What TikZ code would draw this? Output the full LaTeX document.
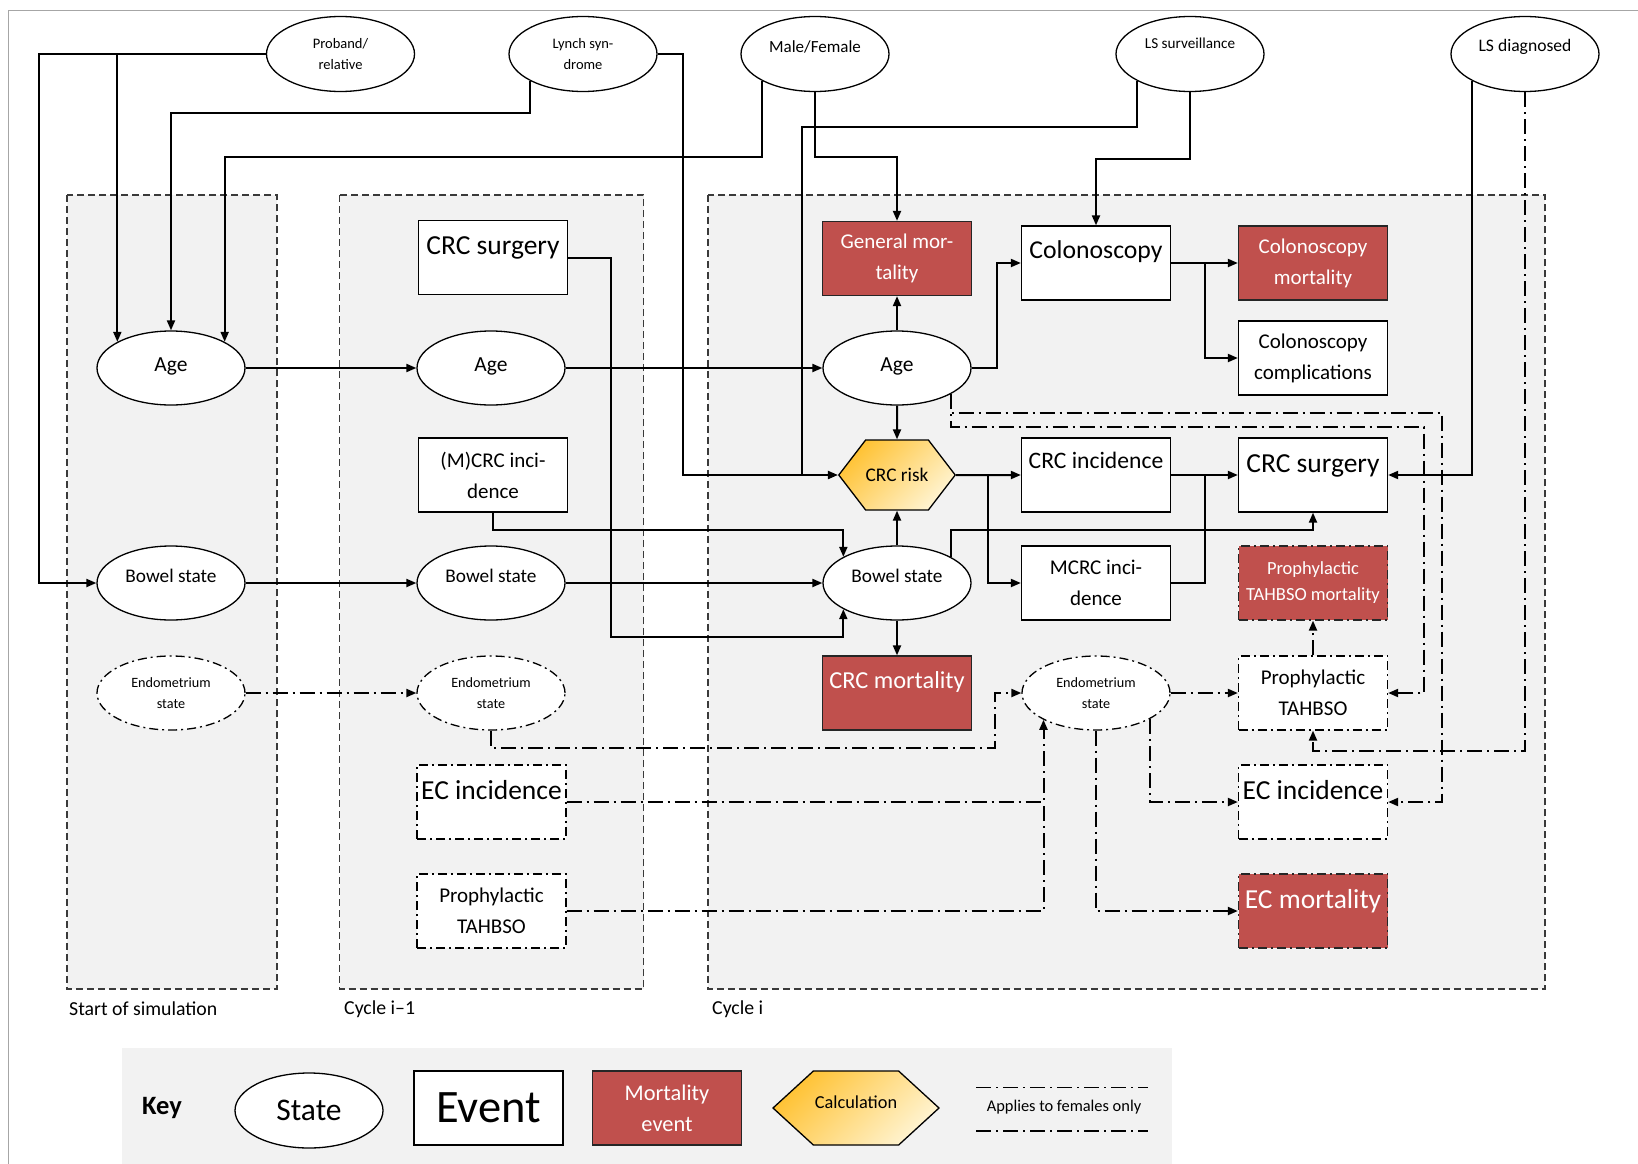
\documentclass[tikz,border=0pt]{standalone}
\usepackage{fontspec}
\setmainfont{Carlito}
\usetikzlibrary{arrows.meta,positioning,calc,shapes.geometric,shapes.symbols}
\definecolor{ink}{HTML}{000000}
\definecolor{panel}{HTML}{F2F2F2}
\definecolor{framegray}{HTML}{3A3A3A}
\definecolor{edgegray}{HTML}{A6A6A6}
\definecolor{mort}{HTML}{C0504D}
\definecolor{calcA}{HTML}{FFC233}
\definecolor{calcB}{HTML}{FFF4D2}
\tikzset{
  >={Triangle[length=10pt,width=8pt]},
  fdash/.style={dash pattern=on 15pt off 5pt on 2pt off 5pt},
  bdash/.style={dash pattern=on 9pt off 4pt on 2pt off 4pt},
  statenode/.style={ellipse,draw=ink,fill=white,line width=1.3pt,minimum width=148pt,minimum height=74pt,inner sep=0pt,align=center,font=\fontsize{20}{30}\selectfont},
  topstate/.style={statenode,minimum height=75pt,font=\fontsize{14.5}{21}\selectfont},
  agenode/.style={statenode,font=\fontsize{21.5}{30}\selectfont,text height=15pt,text depth=9pt},
  bowelnode/.style={statenode,font=\fontsize{19.3}{29}\selectfont,text height=14pt,text depth=16pt},
  femstate/.style={statenode,bdash,font=\fontsize{14.2}{21}\selectfont},
  evbox/.style={rectangle,draw=ink,fill=white,line width=1.3pt,minimum width=149pt,minimum height=74pt,inner sep=0pt,align=center,font=\fontsize{21}{31}\selectfont},
  topbox/.style={evbox,font=\fontsize{27.5}{32}\selectfont,text height=34pt,text depth=40pt},
  mortbox/.style={evbox,fill=mort,draw=ink!85,text=white},
  topmort/.style={topbox,fill=mort,draw=ink!85,text=white},
  calcnode/.style={signal,signal to=east and west,signal pointer angle=105,draw=ink,line width=1.3pt,top color=calcA,bottom color=calcB,shading angle=45,minimum width=116pt,minimum height=70pt,inner sep=0pt,font=\fontsize{19.3}{24}\selectfont},
  cyclebox/.style={draw=framegray,fill=panel,line width=1.3pt,dash pattern=on 7pt off 4pt},
  cyclelabel/.style={anchor=west,inner sep=2pt,font=\fontsize{19.8}{24}\selectfont},
  arr/.style={->,line width=2pt,draw=ink},
  link/.style={line width=2pt,draw=ink},
  farr/.style={->,line width=2pt,draw=ink,fdash},
  flink/.style={line width=2pt,draw=ink,fdash},
}
\begin{document}
\begin{tikzpicture}[x=1pt,y=-1pt]
\useasboundingbox (0,0) rectangle (1638,1164);
\fill[white] (0,0) rectangle (1638,1164);
\draw[edgegray,line width=1.2pt] (8.5,1164) |- (1638,10.5);
\draw[cyclebox] (67,195) rectangle (277,989);
\draw[cyclebox] (339.5,195) rectangle (643.5,989);
\draw[cyclebox] (708,195) rectangle (1545,989);
\node[cyclelabel] (lstart) at (67,1009) {Start of simulation};
\node[cyclelabel] (lprev) at (342,1009) {Cycle i\textendash1};
\node[cyclelabel] (lcur) at (710,1009) {Cycle i};

\node[topstate] (prob) at (340.5,54) {Proband/\\relative};
\node[topstate] (lynch) at (583,54) {Lynch syn-\\drome};
\node[topstate,font=\fontsize{17}{21}\selectfont,text height=12pt,text depth=15.6pt] (mf) at (815,54) {Male/Female};
\node[topstate,font=\fontsize{15.2}{18}\selectfont,text height=11pt,text depth=21.6pt] (lss) at (1190,54) {LS surveillance};
\node[topstate,font=\fontsize{17.6}{21}\selectfont,text height=12pt,text depth=17.6pt] (lsd) at (1525,54) {LS diagnosed};

\node[agenode] (ageS) at (171,368) {Age};
\node[bowelnode] (bowS) at (171,583) {Bowel state};
\node[femstate] (endS) at (171,693) {Endometrium\\state};

\node[topbox] (surg1) at (493,257.5) {CRC surgery};
\node[agenode] (age1) at (491,368) {Age};
\node[evbox] (inc1) at (493,475) {(M)CRC inci-\\dence};
\node[bowelnode] (bow1) at (491,583) {Bowel state};
\node[femstate] (end1) at (491,693) {Endometrium\\state};
\node[topbox,bdash] (ec1) at (491.5,802) {EC incidence};
\node[evbox,bdash] (tah1) at (491.5,911) {Prophylactic\\TAHBSO};

\node[mortbox] (genm) at (897,258.5) {General mor-\\tality};
\node[topbox,font=\fontsize{25.7}{30}\selectfont,text height=32pt,text depth=42pt] (colo) at (1096,263) {Colonoscopy};
\node[mortbox] (cmort) at (1313,263) {Colonoscopy\\mortality};
\node[evbox] (ccomp) at (1313,358) {Colonoscopy\\complications};
\node[agenode] (agei) at (897,368) {Age};
\node[calcnode] (risk) at (897,475) {CRC risk};
\node[topbox,font=\fontsize{23.6}{28}\selectfont,text height=30pt,text depth=44pt] (inci) at (1096,475) {CRC incidence};
\node[topbox] (surgi) at (1313,475) {CRC surgery};
\node[bowelnode] (bowi) at (897,583) {Bowel state};
\node[evbox] (mcrc) at (1096,583) {MCRC inci-\\dence};
\node[mortbox,bdash,font=\fontsize{18.5}{26}\selectfont] (pmort) at (1313,583) {Prophylactic\\TAHBSO mortality};
\node[topmort,font=\fontsize{24.4}{29}\selectfont,text height=32pt,text depth=42pt] (crcm) at (897,693) {CRC mortality};
\node[femstate] (endi) at (1096,693) {Endometrium\\state};
\node[evbox,bdash] (tahi) at (1313,693) {Prophylactic\\TAHBSO};
\node[topbox,bdash] (eci) at (1313,802) {EC incidence};
\node[topmort,bdash] (ecm) at (1313,911) {EC mortality};
\coordinate (jrisk) at (801.5,475);

\draw[arr] (prob.west) -- ++(-227,0) |- (bowS.west);
\draw[arr] (ageS.154 |- prob.west) -- (ageS.154);
\draw[arr] (lynch.207) -- ++(0,32) -| (ageS.north);
\draw[arr] (lynch.east) -- ++(25,0) |- (risk.west);
\draw[arr] (mf.207) -- ++(0,76) -| (ageS.26);
\draw[arr] (mf.south) -- ++(0,65) -| (genm.north);
\draw[link] (lss.207) -- ++(0,46.4) -| (jrisk);
\draw[arr] (lss.south) -- ++(0,66.5) -| (colo.north);
\draw[arr] (lsd.207) |- (surgi.east);
\draw[farr] (lsd.south) -- ++(0,658.5) -| (tahi.south);

\draw[arr] (ageS) -- (age1);
\draw[arr] (age1) -- (agei);
\draw[arr] (bowS) -- (bow1);
\draw[arr] (bow1) -- (bowi);
\draw[farr] (endS) -- (end1);
\draw[arr] (surg1.east) -- ++(43,0) -- ++(0,379) -| (bowi.206);
\draw[arr] (inc1.south) -- ++(0,17) -| (bowi.154);

\draw[arr] (agei) -- (genm);
\draw[arr] (agei.east) -- ++(25,0) |- (colo.west);
\draw[arr] (colo) -- (cmort);
\draw[arr] ($(colo.east)!.5!(cmort.west)$) |- (ccomp.west);
\draw[arr] (agei) -- (risk);
\draw[arr] (bowi) -- (risk);
\draw[arr] (risk) -- (inci);
\draw[arr] ($(risk.east)!.5!(inci.west)$) |- (mcrc.west);
\draw[arr] (inci) -- (surgi);
\draw[link] (mcrc.east) -| ($(inci.east)!.5!(surgi.west)$);
\draw[arr] (bowi.26) -- ++(0,-27) -| (surgi.south);
\draw[arr] (bowi) -- (crcm);

\draw[farr] (agei.334) -- ++(0,19) -| ($(eci.east)+(54,0)$) -- (eci.east);
\draw[farr] (agei.334) -- ++(0,33) -| ($(tahi.east)+(36,0)$) -- (tahi.east);
\draw[farr] (end1.south) -- ++(0,17) -| ($(endi.west)+(-26,0)$) -- (endi.west);
\draw[farr] (ec1.east) -| (endi.207);
\draw[flink] (tah1.east) -| (ec1.east -| endi.207);
\draw[farr] (endi) -- (tahi);
\draw[farr] (endi.334) |- (eci.west);
\draw[farr] (endi.south) |- (ecm.west);
\draw[farr] (tahi) -- (pmort);

\fill[panel] (122,1048) rectangle (1172,1164);
\node[font=\bfseries\fontsize{26.5}{30}\selectfont] (key) at (162,1108) {Key};
\node[statenode,minimum height=75pt,font=\fontsize{31.5}{36}\selectfont] (kstate) at (309,1110.5) {State};
\node[evbox,font=\fontsize{46.5}{50}\selectfont] (kevent) at (488.5,1108) {Event};
\node[mortbox,font=\fontsize{22.4}{31}\selectfont] (kmort) at (667,1108) {Mortality\\event};
\node[calcnode,signal pointer angle=85,minimum width=166pt,minimum height=74pt,font=\fontsize{18.3}{22}\selectfont,text height=17pt,text depth=17pt] (kcalc) at (856,1108) {Calculation};
\node[font=\fontsize{16.4}{20}\selectfont] (kfem) at (1064,1107) {Applies to females only};
\draw[flink,line width=1.5pt] (976,1087.5) -- (1148,1087.5) (976,1131) -- (1148,1131);
\end{tikzpicture}
\end{document}
